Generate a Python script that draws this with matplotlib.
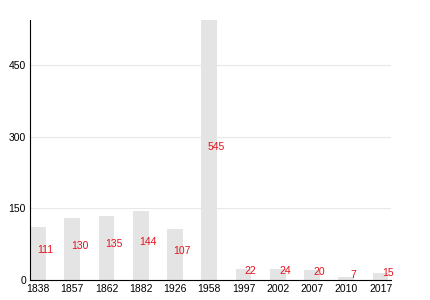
import matplotlib.pyplot as plt

years = ['1838', '1857', '1862', '1882', '1926', '1958', '1997', '2002', '2007', '2010', '2017']
population = [111, 130, 135, 144, 107, 545, 22, 24, 20, 7, 15]
y_ticks = [0, 150, 300, 450]

plt.rcParams['font.family'] = ['Liberation Sans', 'DejaVu Sans']

fig = plt.figure(figsize=(4.3, 3), dpi=100)
ax = fig.add_axes([0.07, 0.0667, 0.839, 0.8667])

x = list(range(len(years)))
ax.bar(x, population, width=0.46, color='#e4e4e4', zorder=2)

# red value labels, placed around half the bar height, shifted right
for xi, v in zip(x, population):
    ax.annotate(str(v), (xi, v / 2), xytext=(5.2, 2.5), textcoords='offset points',
                ha='center', va='center', color='#e8101c', fontsize=7.5, zorder=3)

ax.set_xlim(-0.23, 10.3)
ax.set_ylim(0, 545)
ax.set_xticks(x)
ax.set_xticklabels(years)
ax.set_yticks(y_ticks)
ax.tick_params(axis='both', length=0, labelsize=7.5, pad=3)
ax.grid(axis='y', color='#e8e8e8', linewidth=0.8, zorder=0)
ax.spines['top'].set_visible(False)
ax.spines['right'].set_visible(False)
ax.spines['left'].set_linewidth(0.8)
ax.spines['bottom'].set_linewidth(0.8)

fig.savefig('out.png', dpi=100)
